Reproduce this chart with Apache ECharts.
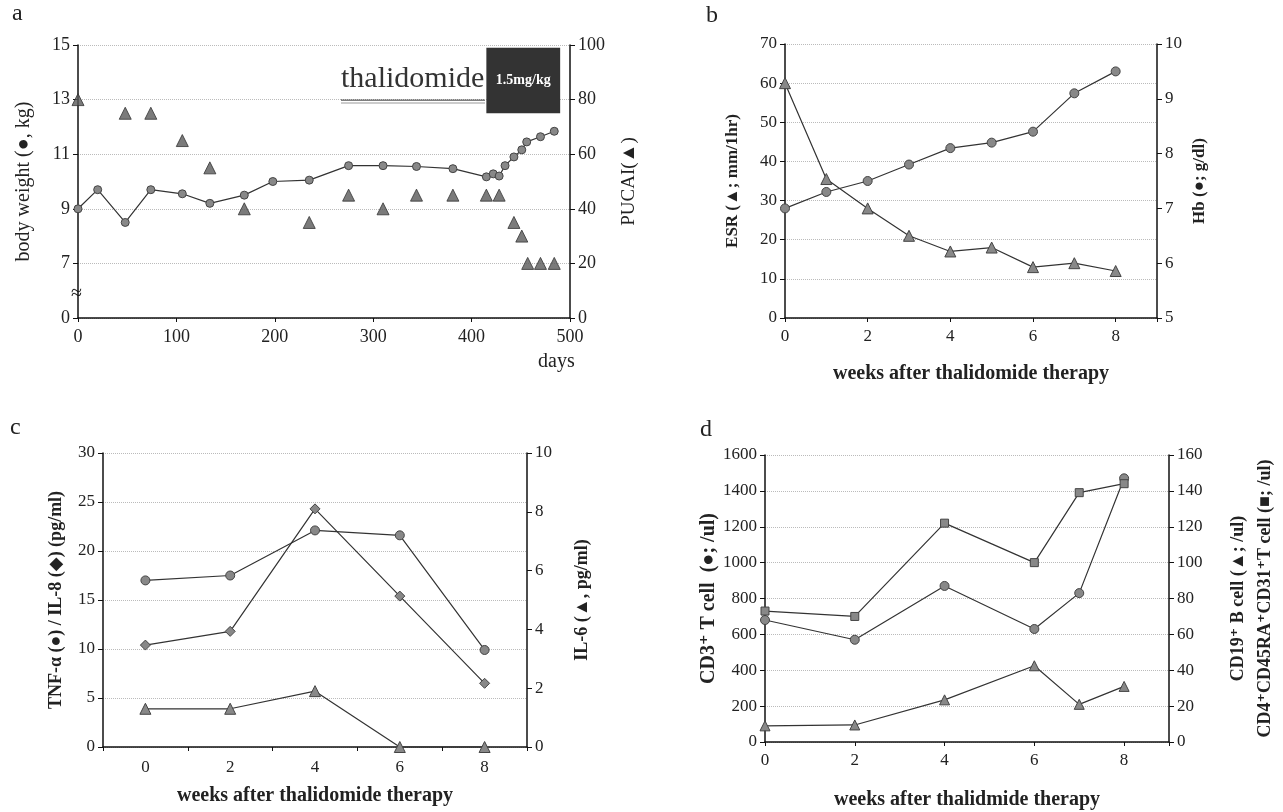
<!DOCTYPE html>
<html>
<head>
<meta charset="utf-8">
<script src="https://cdn.jsdelivr.net/npm/echarts@6/dist/echarts.min.js"></script>
<style>
html, body { margin: 0; padding: 0; background: #fff; }
#main { width: 1283px; height: 812px; }
</style>
</head>
<body>
<div id="main"></div>
<script>
// panel a: body weight and PUCAI
var weightDays = [0, 20, 48, 74, 106, 134, 169, 198, 235, 275, 310, 344, 381, 415, 422, 428, 434, 443, 451, 456, 470, 484];
var weightKg = [9.0, 9.7, 8.5, 9.7, 9.55, 9.2, 9.5, 10.0, 10.05, 10.58, 10.58, 10.55, 10.47, 10.17, 10.28, 10.2, 10.58, 10.9, 11.16, 11.45, 11.64, 11.84];
var pucaiDays = [0, 48, 74, 106, 134, 169, 235, 275, 310, 344, 381, 415, 428, 443, 451, 457, 470, 484];
var pucaiScore = [80, 75, 75, 65, 55, 40, 35, 45, 40, 45, 45, 45, 45, 35, 30, 20, 20, 20];
var weightBreak = 5; // left axis is broken: 0 then 7..15
var thalidomideDays = [415, 490];
var thalidomideBox = [75, 99]; // on the PUCAI scale

// panel b: ESR and Hb
var weeksB = [0, 1, 2, 3, 4, 5, 6, 7, 8];
var esr = [60, 35.5, 28, 21, 17, 18, 13, 14, 12];
var hb = [7.0, 7.3, 7.5, 7.8, 8.1, 8.2, 8.4, 9.1, 9.5];

// panel c: cytokines
var weeksC = ['0', '2', '4', '6', '8'];
var tnf = [17.0, 17.5, 22.1, 21.6, 9.9];
var il8 = [10.4, 11.8, 24.3, 15.4, 6.5];
var il6 = [1.3, 1.3, 1.9, 0, 0];

// panel d: lymphocytes
var weeksD = [0, 2, 4, 6, 7, 8];
var cd3 = [680, 570, 870, 630, 830, 1470];
var cd4ra = [73, 70, 122, 100, 139, 144];
var cd19 = [9, 9.5, 23.5, 42.5, 21, 31];

var FONT = '"Liberation Serif", "DejaVu Serif", serif';
var INK = '#222';

function pairs(xs, ys, shift) {
  return xs.map(function (x, i) { return [x, ys[i] - (shift || 0)]; });
}

function yAxis(grid, pos, min, max, interval, name, gap, bold, size) {
  return {
    type: 'value', gridIndex: grid, position: pos,
    min: min, max: max, interval: interval,
    name: name, nameLocation: 'middle', nameGap: gap,
    nameRotate: 90,
    nameTextStyle: { fontFamily: FONT, fontSize: size || 18, fontWeight: bold ? 'bold' : 'normal', color: INK },
    axisLine: { show: true, lineStyle: { color: '#111', width: 1.5 } },
    axisTick: { show: true, length: 5, lineStyle: { color: '#111' } },
    axisLabel: {
      fontFamily: FONT, fontSize: 17, color: INK, margin: 8,
      formatter: function (v) { return String(v); }
    },
    splitLine: { show: pos === 'left', lineStyle: { color: '#bbb', type: 'dotted', width: 1 } }
  };
}

function xValue(grid, min, max, interval, name, gap, hideLast) {
  return {
    type: 'value', gridIndex: grid, min: min, max: max, interval: interval,
    name: name, nameLocation: 'middle', nameGap: gap,
    nameTextStyle: { fontFamily: FONT, fontSize: 20, fontWeight: 'bold', color: INK },
    axisLine: { show: true, onZero: false, lineStyle: { color: '#111', width: 1.5 } },
    axisTick: { show: true, length: 4, lineStyle: { color: '#111' } },
    axisLabel: {
      fontFamily: FONT, fontSize: 17, color: INK, margin: 10,
      formatter: function (v) { return (hideLast && v === max) ? '' : String(v); }
    },
    splitLine: { show: false }
  };
}

function line(name, x, y, data, shape, size) {
  return {
    name: name, type: 'line', xAxisIndex: x, yAxisIndex: y, data: data,
    symbol: shape, symbolSize: size || 9,
    lineStyle: { color: '#333', width: 1.2 },
    itemStyle: { color: '#888', borderColor: '#444', borderWidth: 1 },
    z: 3
  };
}

var chart = echarts.init(document.getElementById('main'));

var axisA = xValue(0, 0, 500, 100, '', 0, false);
axisA.axisLabel.fontSize = 18;

var weightAxis = yAxis(0, 'left', 0, 10, 2, 'body weight (\u25CF, kg)', 44, false, 20);
weightAxis.axisLabel.fontSize = 18;
weightAxis.axisLabel.formatter = function (v) { return v === 0 ? '0' : String(v + weightBreak); };

var pucaiAxis = yAxis(0, 'right', 0, 100, 20, 'PUCAI(\u25B2)', 50, false, 19);
pucaiAxis.axisLabel.fontSize = 18;

var cellAxis = yAxis(3, 'right', 0, 160, 20, 'CD19\u207A B cell (\u25B2; /ul)\nCD4\u207ACD45RA\u207ACD31\u207AT cell (\u25A0; /ul)', 56, true, 18);
cellAxis.nameTextStyle.lineHeight = 27;

chart.setOption({
  backgroundColor: '#fff',
  animation: false,
  grid: [
    { left: 78, top: 45, width: 492, height: 273 },
    { left: 785, top: 44, width: 372, height: 274 },
    { left: 103, top: 453, width: 424, height: 294 },
    { left: 765, top: 455, width: 404, height: 287 }
  ],
  xAxis: [
    axisA,
    xValue(1, 0, 9, 2, 'weeks after thalidomide therapy', 46, true),
    {
      type: 'category', gridIndex: 2, data: weeksC, boundaryGap: true,
      name: 'weeks after thalidomide therapy', nameLocation: 'middle', nameGap: 39,
      nameTextStyle: { fontFamily: FONT, fontSize: 20, fontWeight: 'bold', color: INK },
      axisLine: { show: true, lineStyle: { color: '#111', width: 1.5 } },
      axisTick: { show: true, length: 4, lineStyle: { color: '#111' } },
      axisLabel: { fontFamily: FONT, fontSize: 17, color: INK, margin: 12 }
    },
    xValue(3, 0, 9, 2, 'weeks after thalidmide therapy', 48, true)
  ],
  yAxis: [
    weightAxis,
    pucaiAxis,
    yAxis(1, 'left', 0, 70, 10, 'ESR (\u25B2; mm/1hr)', 44, true, 17),
    yAxis(1, 'right', 5, 10, 1, 'Hb (\u25CF; g/dl)', 34, true, 17),
    yAxis(2, 'left', 0, 30, 5, 'TNF-\u03B1 (\u25CF) / IL-8 (\u25C6) (pg/ml)', 38, true, 18),
    yAxis(2, 'right', 0, 10, 2, 'IL-6 (\u25B2, pg/ml)', 46, true, 18),
    yAxis(3, 'left', 0, 1600, 200, 'CD3\u207A T cell  (\u25CF; /ul)', 42, true, 20),
    cellAxis
  ],
  series: [
    line('body weight', 0, 0, pairs(weightDays, weightKg, weightBreak), 'circle', 8),
    {
      name: 'PUCAI', type: 'scatter', xAxisIndex: 0, yAxisIndex: 1,
      data: pairs(pucaiDays, pucaiScore), symbol: 'triangle', symbolSize: 12,
      itemStyle: { color: '#5a5a5a', borderColor: '#333', borderWidth: 1 },
      markArea: {
        silent: true,
        itemStyle: { color: '#333' },
        label: {
          show: true, position: 'inside', formatter: '1.5mg/kg',
          fontFamily: FONT, fontSize: 14, fontWeight: 'bold', color: '#fff'
        },
        data: [[
          { xAxis: thalidomideDays[0], yAxis: thalidomideBox[0] },
          { xAxis: thalidomideDays[1], yAxis: thalidomideBox[1] }
        ]]
      }
    },
    line('ESR', 1, 2, pairs(weeksB, esr), 'triangle', 11),
    line('Hb', 1, 3, pairs(weeksB, hb), 'circle', 9),
    line('TNF-a', 2, 4, tnf, 'circle', 9),
    line('IL-8', 2, 4, il8, 'diamond', 10),
    line('IL-6', 2, 5, il6, 'triangle', 11),
    line('CD3', 3, 6, pairs(weeksD, cd3), 'circle', 9),
    line('CD4 CD45RA CD31', 3, 7, pairs(weeksD, cd4ra), 'rect', 8),
    line('CD19', 3, 7, pairs(weeksD, cd19), 'triangle', 10)
  ],
  graphic: [
    { type: 'text', left: 12, top: 2, style: { text: 'a', font: '24px ' + FONT, fill: INK } },
    { type: 'text', left: 706, top: 4, style: { text: 'b', font: '24px ' + FONT, fill: INK } },
    { type: 'text', left: 10, top: 416, style: { text: 'c', font: '24px ' + FONT, fill: INK } },
    { type: 'text', left: 700, top: 418, style: { text: 'd', font: '24px ' + FONT, fill: INK } },
    { type: 'text', left: 538, top: 352, style: { text: 'days', font: '20px ' + FONT, fill: INK } },
    { type: 'text', left: 71, top: 284, style: { text: '\u2248', font: '20px ' + FONT, fill: INK } },
    { type: 'text', left: 341, top: 64, style: { text: 'thalidomide', font: '30px ' + FONT, fill: '#333' } },
    { type: 'line', shape: { x1: 341, y1: 100, x2: 485, y2: 100 }, style: { stroke: '#555', lineWidth: 1.5 } },
    { type: 'line', shape: { x1: 341, y1: 103, x2: 485, y2: 103 }, style: { stroke: '#999', lineWidth: 1 } }
  ]
});
</script>
</body>
</html>
